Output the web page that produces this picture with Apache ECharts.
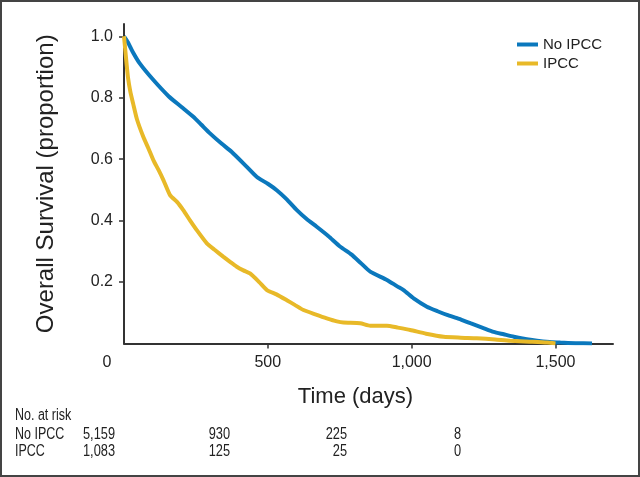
<!DOCTYPE html>
<html><head><meta charset="utf-8">
<script src="https://cdn.jsdelivr.net/npm/echarts@6/dist/echarts.min.js"></script>
<style>html,body{margin:0;padding:0;background:#fff}#c{width:640px;height:477px}</style>
</head><body><div id="c"></div>
<script>
// Kaplan-Meier curves (days, survival proportion)
const noIpccDays = [0,14,30,56,100,155,200,241,269,299,340,373,427,462,500,531,565,601,635,670,710,752,790,821,856,914,950,972,1007,1053,1090,1123,1165,1204,1245,1285,1320,1355,1400,1436,1480,1517,1570,1627];
const noIpccSurv = [1.0,0.98,0.95,0.91,0.86,0.805,0.77,0.738,0.712,0.684,0.65,0.625,0.575,0.542,0.52,0.499,0.47,0.434,0.405,0.38,0.35,0.315,0.29,0.264,0.234,0.207,0.186,0.174,0.147,0.12,0.105,0.093,0.08,0.066,0.052,0.038,0.03,0.022,0.014,0.009,0.005,0.003,0.001,0.0];
const ipccDays = [0,5,9,14,22,32,45,67,85,102,120,137,160,185,206,230,253,288,315,346,370,392,415,438,470,497,530,566,595,624,665,705,740,763,821,856,914,950,995,1050,1111,1170,1227,1290,1343,1410,1471,1500];
const ipccSurv = [1.0,0.95,0.91,0.865,0.82,0.78,0.73,0.673,0.635,0.597,0.565,0.532,0.483,0.46,0.434,0.40,0.369,0.326,0.305,0.282,0.265,0.25,0.238,0.228,0.2,0.174,0.16,0.141,0.125,0.109,0.095,0.082,0.072,0.068,0.066,0.058,0.058,0.052,0.044,0.032,0.022,0.019,0.017,0.013,0.009,0.006,0.003,0.0];

const seriesNames = ['No IPCC', 'IPCC'];
const xTicks = [500, 1000, 1500];
const yTicks = [0.2, 0.4, 0.6, 0.8, 1.0];

// Number at risk table
const riskTitle = 'No. at risk';
const riskRowLabels = ['No IPCC', 'IPCC'];
const riskNoIpcc = ['5,159', '930', '225', '8'];
const riskIpcc = ['1,083', '125', '25', '0'];

const BLUE = '#0b78bd';
const GOLD = '#e8b928';
const AX = '#333333';
const TXT = '#222222';
const SANS = "'Liberation Sans',Arial,sans-serif";

const fmtNum = v => v.toLocaleString('en-US');

const chart = echarts.init(document.getElementById('c'), null, {renderer: 'canvas'});

const riskCols = [115, 230, 347, 461];
const riskRowsY = [435, 452];
const tStyle = (text, align) => ({text: text, font: '16px ' + SANS, fill: TXT, align: align, verticalAlign: 'middle'});
const graphics = [
  {type: 'rect', shape: {x: 1, y: 1, width: 638, height: 475}, style: {fill: 'none', stroke: '#444', lineWidth: 2}, silent: true},
  {type: 'text', x: 107, y: 363, style: {text: '0', font: '16px ' + SANS, fill: TXT, align: 'center', verticalAlign: 'middle'}},
  {type: 'text', x: 15, y: 416, scaleX: 0.78, style: tStyle(riskTitle, 'left')}
];
[riskNoIpcc, riskIpcc].forEach((row, r) => {
  graphics.push({type: 'text', x: 15, y: riskRowsY[r], scaleX: 0.78, style: tStyle(riskRowLabels[r], 'left')});
  row.forEach((t, i) => {
    graphics.push({type: 'text', x: riskCols[i], y: riskRowsY[r], scaleX: 0.8, style: tStyle(t, 'right')});
  });
});

chart.setOption({
  animation: false,
  backgroundColor: '#fff',
  grid: {left: 124, right: 27, top: 24, bottom: 133.5},
  legend: {
    orient: 'vertical', left: 512, top: 32, itemWidth: 21, itemHeight: 4, itemGap: 4,
    icon: 'rect',
    textStyle: {fontFamily: SANS, fontSize: 15, color: TXT},
    data: seriesNames
  },
  xAxis: {
    type: 'value', min: 0, max: 1700,
    name: 'Time (days)', nameLocation: 'middle', nameGap: 42,
    nameTextStyle: {fontFamily: SANS, fontSize: 22, color: TXT, padding: [0, 26, 0, 0]},
    axisLine: {show: true, lineStyle: {color: AX, width: 2}},
    axisTick: {show: true, length: 5, lineStyle: {color: AX, width: 1.5}, customValues: xTicks},
    axisLabel: {fontFamily: SANS, fontSize: 16, color: TXT, margin: 11, customValues: xTicks, formatter: v => fmtNum(v)},
    splitLine: {show: false}
  },
  yAxis: {
    type: 'value', min: 0, max: 1.04,
    name: 'Overall Survival (proportion)', nameLocation: 'middle', nameGap: 66,
    nameTextStyle: {fontFamily: SANS, fontSize: 24, color: TXT},
    axisLine: {show: true, lineStyle: {color: AX, width: 2}},
    axisTick: {show: true, length: 5, lineStyle: {color: AX, width: 1.5}, customValues: yTicks},
    axisLabel: {fontFamily: SANS, fontSize: 16, color: TXT, margin: 11, customValues: yTicks, formatter: v => v.toFixed(1)},
    splitLine: {show: false}
  },
  series: [
    {name: seriesNames[0], type: 'line', showSymbol: false, symbol: 'none', color: BLUE, smooth: 0.2,
     lineStyle: {width: 4, color: BLUE}, data: noIpccDays.map((d, i) => [d, noIpccSurv[i]]), z: 2},
    {name: seriesNames[1], type: 'line', showSymbol: false, symbol: 'none', color: GOLD, smooth: 0.2,
     lineStyle: {width: 4, color: GOLD}, data: ipccDays.map((d, i) => [d, ipccSurv[i]]), z: 3}
  ],
  graphic: graphics
});
</script>
</body></html>
